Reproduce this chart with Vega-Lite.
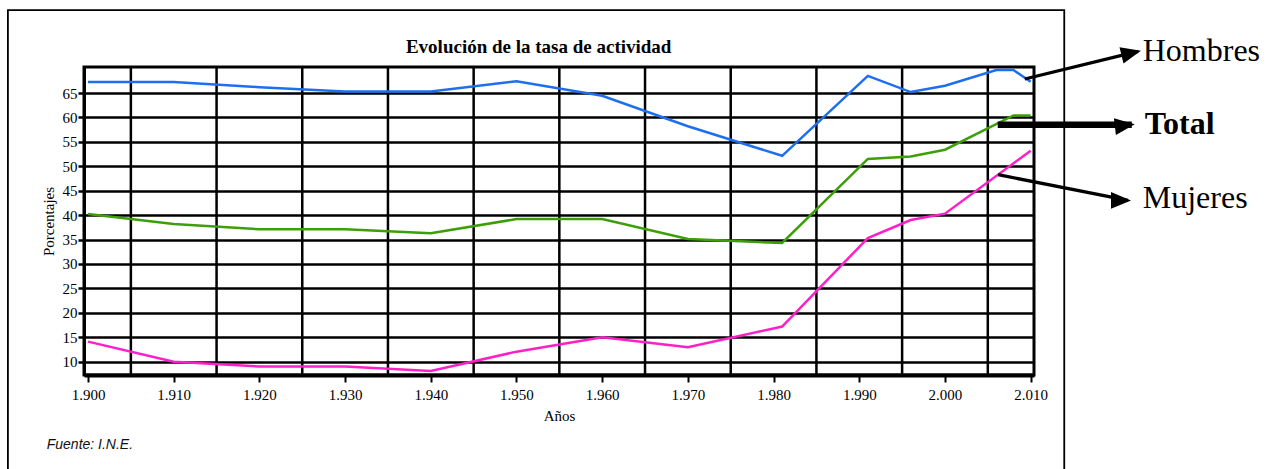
{
  "$schema": "https://vega.github.io/schema/vega-lite/v6.json",
  "width": 950,
  "height": 308,
  "autosize": {"type": "none"},
  "padding": {"left": 84, "top": 67, "right": 244, "bottom": 94},
  "background": "white",
  "config": {
    "view": {"stroke": "black", "strokeWidth": 3}
  },
  "datasets": {
    "series": [
      {"serie": "Hombres", "year": 1900, "value": 67.25},
      {"serie": "Hombres", "year": 1910, "value": 67.25},
      {"serie": "Hombres", "year": 1920, "value": 66.2},
      {"serie": "Hombres", "year": 1930, "value": 65.3},
      {"serie": "Hombres", "year": 1940, "value": 65.3},
      {"serie": "Hombres", "year": 1950, "value": 67.4},
      {"serie": "Hombres", "year": 1960, "value": 64.45},
      {"serie": "Hombres", "year": 1970, "value": 58.2},
      {"serie": "Hombres", "year": 1981, "value": 52.15},
      {"serie": "Hombres", "year": 1991, "value": 68.5},
      {"serie": "Hombres", "year": 1996, "value": 65.2},
      {"serie": "Hombres", "year": 2000, "value": 66.5},
      {"serie": "Hombres", "year": 2006, "value": 69.7},
      {"serie": "Hombres", "year": 2008, "value": 69.7},
      {"serie": "Hombres", "year": 2010, "value": 67.3},
      {"serie": "Total", "year": 1900, "value": 40.25},
      {"serie": "Total", "year": 1910, "value": 38.2},
      {"serie": "Total", "year": 1920, "value": 37.1},
      {"serie": "Total", "year": 1930, "value": 37.1},
      {"serie": "Total", "year": 1940, "value": 36.3},
      {"serie": "Total", "year": 1950, "value": 39.2},
      {"serie": "Total", "year": 1960, "value": 39.2},
      {"serie": "Total", "year": 1970, "value": 35.1},
      {"serie": "Total", "year": 1981, "value": 34.3},
      {"serie": "Total", "year": 1991, "value": 51.5},
      {"serie": "Total", "year": 1996, "value": 52.0},
      {"serie": "Total", "year": 2000, "value": 53.4},
      {"serie": "Total", "year": 2008, "value": 60.4},
      {"serie": "Total", "year": 2010, "value": 60.4},
      {"serie": "Mujeres", "year": 1900, "value": 14.1},
      {"serie": "Mujeres", "year": 1910, "value": 10.0},
      {"serie": "Mujeres", "year": 1920, "value": 9.0},
      {"serie": "Mujeres", "year": 1930, "value": 9.0},
      {"serie": "Mujeres", "year": 1940, "value": 8.1},
      {"serie": "Mujeres", "year": 1950, "value": 12.05},
      {"serie": "Mujeres", "year": 1960, "value": 15.0},
      {"serie": "Mujeres", "year": 1970, "value": 12.95},
      {"serie": "Mujeres", "year": 1981, "value": 17.2},
      {"serie": "Mujeres", "year": 1991, "value": 35.3},
      {"serie": "Mujeres", "year": 1996, "value": 39.0},
      {"serie": "Mujeres", "year": 2000, "value": 40.3},
      {"serie": "Mujeres", "year": 2010, "value": 53.2}
    ],
    "grid": [
      {"year": 1905}, {"year": 1915}, {"year": 1925}, {"year": 1935}, {"year": 1945},
      {"year": 1955}, {"year": 1965}, {"year": 1975}, {"year": 1985}, {"year": 1995}, {"year": 2005}
    ],
    "notes": [
      {"serie": "Hombres", "x": 2009.31, "y": 67.87, "xTip": 2022.53, "yTip": 73.52, "xLabel": 2023.08, "yLabel": 71.48},
      {"serie": "Total", "x": 2006.16, "y": 58.52, "xTip": 2021.8, "yTip": 58.52, "xLabel": 2023.31, "yLabel": 56.61},
      {"serie": "Mujeres", "x": 2006.2, "y": 48.28, "xTip": 2021.36, "yTip": 43.02, "xLabel": 2023.08, "yLabel": 41.46}
    ],
    "texts": [
      {"kind": "title", "x": 1952.59, "y": 73.2, "text": "Evolución de la tasa de actividad"},
      {"kind": "source", "x": 1895.18, "y": -7.82, "text": "Fuente: I.N.E."}
    ],
    "frame": [
      {"x": 1890.65, "x2": 2013.92, "y": 81.96, "y2": -20}
    ]
  },
  "layer": [
    {
      "data": {"name": "grid"},
      "mark": {"type": "rule", "color": "black", "strokeWidth": 2.5},
      "encoding": {
        "x": {
          "field": "year", "type": "quantitative", "title": "Años",
          "scale": {"domain": [1899.53, 2010.39], "nice": false, "zero": false},
          "axis": {
            "values": [1900, 1910, 1920, 1930, 1940, 1950, 1960, 1970, 1980, 1990, 2000, 2010],
            "format": "d", "labelExpr": "slice(datum.label, 0, 1) + '.' + slice(datum.label, 1)",
            "grid": false, "domainColor": "black", "domainWidth": 4,
            "tickColor": "black", "tickWidth": 2, "tickSize": 7,
            "labelFont": "Liberation Serif", "labelFontSize": 15, "labelColor": "black",
            "labelPadding": 5, "labelFlush": false, "labelOverlap": false,
            "titleFont": "Liberation Serif", "titleFontSize": 15, "titleFontWeight": "normal", "titleColor": "black", "titlePadding": 6
          }
        }
      }
    },
    {
      "data": {"name": "series"},
      "mark": {"type": "line", "strokeWidth": 2.5},
      "encoding": {
        "x": {
          "field": "year", "type": "quantitative", "title": "Años",
          "scale": {"domain": [1899.53, 2010.39], "nice": false, "zero": false},
          "axis": {
            "values": [1900, 1910, 1920, 1930, 1940, 1950, 1960, 1970, 1980, 1990, 2000, 2010],
            "format": "d", "labelExpr": "slice(datum.label, 0, 1) + '.' + slice(datum.label, 1)",
            "grid": false, "domainColor": "black", "domainWidth": 4,
            "tickColor": "black", "tickWidth": 2, "tickSize": 7,
            "labelFont": "Liberation Serif", "labelFontSize": 15, "labelColor": "black",
            "labelPadding": 5, "labelFlush": false, "labelOverlap": false,
            "titleFont": "Liberation Serif", "titleFontSize": 15, "titleFontWeight": "normal", "titleColor": "black", "titlePadding": 6
          }
        },
        "y": {
          "field": "value", "type": "quantitative", "title": "Porcentajes",
          "scale": {"domain": [7.27, 70.33], "nice": false, "zero": false},
          "axis": {
            "values": [10, 15, 20, 25, 30, 35, 40, 45, 50, 55, 60, 65],
            "grid": true, "gridColor": "black", "gridWidth": 2.5, "gridOpacity": 1,
            "domainColor": "black", "domainWidth": 3,
            "tickColor": "black", "tickWidth": 2.5, "tickSize": 6,
            "labelFont": "Liberation Serif", "labelFontSize": 15, "labelColor": "black",
            "labelPadding": 1, "labelOverlap": false,
            "titleFont": "Liberation Serif", "titleFontSize": 15, "titleFontWeight": "normal", "titleColor": "black", "titlePadding": 6
          }
        },
        "color": {
          "field": "serie", "type": "nominal",
          "scale": {"domain": ["Hombres", "Total", "Mujeres"], "range": ["#1e6ef0", "#3c9f0a", "#ff1fc8"]},
          "legend": null
        }
      }
    },
    {
      "data": {"name": "notes"},
      "mark": {"type": "rule", "color": "black"},
      "encoding": {
        "x": {
          "field": "x", "type": "quantitative", "title": "Años",
          "scale": {"domain": [1899.53, 2010.39], "nice": false, "zero": false},
          "axis": {
            "values": [1900, 1910, 1920, 1930, 1940, 1950, 1960, 1970, 1980, 1990, 2000, 2010],
            "format": "d", "labelExpr": "slice(datum.label, 0, 1) + '.' + slice(datum.label, 1)",
            "grid": false, "domainColor": "black", "domainWidth": 4,
            "tickColor": "black", "tickWidth": 2, "tickSize": 7,
            "labelFont": "Liberation Serif", "labelFontSize": 15, "labelColor": "black",
            "labelPadding": 5, "labelFlush": false, "labelOverlap": false,
            "titleFont": "Liberation Serif", "titleFontSize": 15, "titleFontWeight": "normal", "titleColor": "black", "titlePadding": 6
          }
        },
        "y": {
          "field": "y", "type": "quantitative", "title": "Porcentajes",
          "scale": {"domain": [7.27, 70.33], "nice": false, "zero": false},
          "axis": {
            "values": [10, 15, 20, 25, 30, 35, 40, 45, 50, 55, 60, 65],
            "grid": true, "gridColor": "black", "gridWidth": 2.5, "gridOpacity": 1,
            "domainColor": "black", "domainWidth": 3,
            "tickColor": "black", "tickWidth": 2.5, "tickSize": 6,
            "labelFont": "Liberation Serif", "labelFontSize": 15, "labelColor": "black",
            "labelPadding": 1, "labelOverlap": false,
            "titleFont": "Liberation Serif", "titleFontSize": 15, "titleFontWeight": "normal", "titleColor": "black", "titlePadding": 6
          }
        },
        "x2": {"field": "xTip"},
        "y2": {"field": "yTip"},
        "strokeWidth": {"condition": {"test": "datum.serie === 'Total'", "value": 6.5}, "value": 3.3}
      }
    },
    {
      "data": {"name": "notes"},
      "mark": {"type": "point", "filled": true, "color": "black", "opacity": 1, "shape": "M0.15,0L-0.85,-0.42L-0.85,0.42Z"},
      "encoding": {
        "x": {
          "field": "xTip", "type": "quantitative", "title": "Años",
          "scale": {"domain": [1899.53, 2010.39], "nice": false, "zero": false},
          "axis": {
            "values": [1900, 1910, 1920, 1930, 1940, 1950, 1960, 1970, 1980, 1990, 2000, 2010],
            "format": "d", "labelExpr": "slice(datum.label, 0, 1) + '.' + slice(datum.label, 1)",
            "grid": false, "domainColor": "black", "domainWidth": 4,
            "tickColor": "black", "tickWidth": 2, "tickSize": 7,
            "labelFont": "Liberation Serif", "labelFontSize": 15, "labelColor": "black",
            "labelPadding": 5, "labelFlush": false, "labelOverlap": false,
            "titleFont": "Liberation Serif", "titleFontSize": 15, "titleFontWeight": "normal", "titleColor": "black", "titlePadding": 6
          }
        },
        "y": {
          "field": "yTip", "type": "quantitative", "title": "Porcentajes",
          "scale": {"domain": [7.27, 70.33], "nice": false, "zero": false},
          "axis": {
            "values": [10, 15, 20, 25, 30, 35, 40, 45, 50, 55, 60, 65],
            "grid": true, "gridColor": "black", "gridWidth": 2.5, "gridOpacity": 1,
            "domainColor": "black", "domainWidth": 3,
            "tickColor": "black", "tickWidth": 2.5, "tickSize": 6,
            "labelFont": "Liberation Serif", "labelFontSize": 15, "labelColor": "black",
            "labelPadding": 1, "labelOverlap": false,
            "titleFont": "Liberation Serif", "titleFontSize": 15, "titleFontWeight": "normal", "titleColor": "black", "titlePadding": 6
          }
        },
        "angle": {"field": "serie", "type": "nominal", "scale": {"domain": ["Hombres", "Total", "Mujeres"], "range": [-13.7, 0, 11.5]}, "legend": null},
        "size": {"value": 1600}
      }
    },
    {
      "data": {"name": "notes"},
      "transform": [{"filter": "datum.serie !== 'Total'"}],
      "mark": {"type": "text", "font": "Liberation Serif", "fontSize": 32, "align": "left", "baseline": "alphabetic", "color": "black"},
      "encoding": {
        "x": {
          "field": "xLabel", "type": "quantitative", "title": "Años",
          "scale": {"domain": [1899.53, 2010.39], "nice": false, "zero": false},
          "axis": {
            "values": [1900, 1910, 1920, 1930, 1940, 1950, 1960, 1970, 1980, 1990, 2000, 2010],
            "format": "d", "labelExpr": "slice(datum.label, 0, 1) + '.' + slice(datum.label, 1)",
            "grid": false, "domainColor": "black", "domainWidth": 4,
            "tickColor": "black", "tickWidth": 2, "tickSize": 7,
            "labelFont": "Liberation Serif", "labelFontSize": 15, "labelColor": "black",
            "labelPadding": 5, "labelFlush": false, "labelOverlap": false,
            "titleFont": "Liberation Serif", "titleFontSize": 15, "titleFontWeight": "normal", "titleColor": "black", "titlePadding": 6
          }
        },
        "y": {
          "field": "yLabel", "type": "quantitative", "title": "Porcentajes",
          "scale": {"domain": [7.27, 70.33], "nice": false, "zero": false},
          "axis": {
            "values": [10, 15, 20, 25, 30, 35, 40, 45, 50, 55, 60, 65],
            "grid": true, "gridColor": "black", "gridWidth": 2.5, "gridOpacity": 1,
            "domainColor": "black", "domainWidth": 3,
            "tickColor": "black", "tickWidth": 2.5, "tickSize": 6,
            "labelFont": "Liberation Serif", "labelFontSize": 15, "labelColor": "black",
            "labelPadding": 1, "labelOverlap": false,
            "titleFont": "Liberation Serif", "titleFontSize": 15, "titleFontWeight": "normal", "titleColor": "black", "titlePadding": 6
          }
        },
        "text": {"field": "serie"}
      }
    },
    {
      "data": {"name": "notes"},
      "transform": [{"filter": "datum.serie === 'Total'"}],
      "mark": {"type": "text", "font": "Liberation Serif", "fontSize": 32, "fontWeight": "bold", "align": "left", "baseline": "alphabetic", "color": "black"},
      "encoding": {
        "x": {
          "field": "xLabel", "type": "quantitative", "title": "Años",
          "scale": {"domain": [1899.53, 2010.39], "nice": false, "zero": false},
          "axis": {
            "values": [1900, 1910, 1920, 1930, 1940, 1950, 1960, 1970, 1980, 1990, 2000, 2010],
            "format": "d", "labelExpr": "slice(datum.label, 0, 1) + '.' + slice(datum.label, 1)",
            "grid": false, "domainColor": "black", "domainWidth": 4,
            "tickColor": "black", "tickWidth": 2, "tickSize": 7,
            "labelFont": "Liberation Serif", "labelFontSize": 15, "labelColor": "black",
            "labelPadding": 5, "labelFlush": false, "labelOverlap": false,
            "titleFont": "Liberation Serif", "titleFontSize": 15, "titleFontWeight": "normal", "titleColor": "black", "titlePadding": 6
          }
        },
        "y": {
          "field": "yLabel", "type": "quantitative", "title": "Porcentajes",
          "scale": {"domain": [7.27, 70.33], "nice": false, "zero": false},
          "axis": {
            "values": [10, 15, 20, 25, 30, 35, 40, 45, 50, 55, 60, 65],
            "grid": true, "gridColor": "black", "gridWidth": 2.5, "gridOpacity": 1,
            "domainColor": "black", "domainWidth": 3,
            "tickColor": "black", "tickWidth": 2.5, "tickSize": 6,
            "labelFont": "Liberation Serif", "labelFontSize": 15, "labelColor": "black",
            "labelPadding": 1, "labelOverlap": false,
            "titleFont": "Liberation Serif", "titleFontSize": 15, "titleFontWeight": "normal", "titleColor": "black", "titlePadding": 6
          }
        },
        "text": {"field": "serie"}
      }
    },
    {
      "data": {"name": "texts"},
      "transform": [{"filter": "datum.kind === 'title'"}],
      "mark": {"type": "text", "font": "Liberation Serif", "fontSize": 19, "fontWeight": "bold", "align": "center", "baseline": "alphabetic", "color": "black"},
      "encoding": {
        "x": {
          "field": "x", "type": "quantitative", "title": "Años",
          "scale": {"domain": [1899.53, 2010.39], "nice": false, "zero": false},
          "axis": {
            "values": [1900, 1910, 1920, 1930, 1940, 1950, 1960, 1970, 1980, 1990, 2000, 2010],
            "format": "d", "labelExpr": "slice(datum.label, 0, 1) + '.' + slice(datum.label, 1)",
            "grid": false, "domainColor": "black", "domainWidth": 4,
            "tickColor": "black", "tickWidth": 2, "tickSize": 7,
            "labelFont": "Liberation Serif", "labelFontSize": 15, "labelColor": "black",
            "labelPadding": 5, "labelFlush": false, "labelOverlap": false,
            "titleFont": "Liberation Serif", "titleFontSize": 15, "titleFontWeight": "normal", "titleColor": "black", "titlePadding": 6
          }
        },
        "y": {
          "field": "y", "type": "quantitative", "title": "Porcentajes",
          "scale": {"domain": [7.27, 70.33], "nice": false, "zero": false},
          "axis": {
            "values": [10, 15, 20, 25, 30, 35, 40, 45, 50, 55, 60, 65],
            "grid": true, "gridColor": "black", "gridWidth": 2.5, "gridOpacity": 1,
            "domainColor": "black", "domainWidth": 3,
            "tickColor": "black", "tickWidth": 2.5, "tickSize": 6,
            "labelFont": "Liberation Serif", "labelFontSize": 15, "labelColor": "black",
            "labelPadding": 1, "labelOverlap": false,
            "titleFont": "Liberation Serif", "titleFontSize": 15, "titleFontWeight": "normal", "titleColor": "black", "titlePadding": 6
          }
        },
        "text": {"field": "text"}
      }
    },
    {
      "data": {"name": "texts"},
      "transform": [{"filter": "datum.kind === 'source'"}],
      "mark": {"type": "text", "font": "Liberation Sans", "fontSize": 14, "fontStyle": "italic", "align": "left", "baseline": "alphabetic", "color": "#111111"},
      "encoding": {
        "x": {
          "field": "x", "type": "quantitative", "title": "Años",
          "scale": {"domain": [1899.53, 2010.39], "nice": false, "zero": false},
          "axis": {
            "values": [1900, 1910, 1920, 1930, 1940, 1950, 1960, 1970, 1980, 1990, 2000, 2010],
            "format": "d", "labelExpr": "slice(datum.label, 0, 1) + '.' + slice(datum.label, 1)",
            "grid": false, "domainColor": "black", "domainWidth": 4,
            "tickColor": "black", "tickWidth": 2, "tickSize": 7,
            "labelFont": "Liberation Serif", "labelFontSize": 15, "labelColor": "black",
            "labelPadding": 5, "labelFlush": false, "labelOverlap": false,
            "titleFont": "Liberation Serif", "titleFontSize": 15, "titleFontWeight": "normal", "titleColor": "black", "titlePadding": 6
          }
        },
        "y": {
          "field": "y", "type": "quantitative", "title": "Porcentajes",
          "scale": {"domain": [7.27, 70.33], "nice": false, "zero": false},
          "axis": {
            "values": [10, 15, 20, 25, 30, 35, 40, 45, 50, 55, 60, 65],
            "grid": true, "gridColor": "black", "gridWidth": 2.5, "gridOpacity": 1,
            "domainColor": "black", "domainWidth": 3,
            "tickColor": "black", "tickWidth": 2.5, "tickSize": 6,
            "labelFont": "Liberation Serif", "labelFontSize": 15, "labelColor": "black",
            "labelPadding": 1, "labelOverlap": false,
            "titleFont": "Liberation Serif", "titleFontSize": 15, "titleFontWeight": "normal", "titleColor": "black", "titlePadding": 6
          }
        },
        "text": {"field": "text"}
      }
    },
    {
      "data": {"name": "frame"},
      "mark": {"type": "rect", "fill": "transparent", "stroke": "black", "strokeWidth": 1.8},
      "encoding": {
        "x": {
          "field": "x", "type": "quantitative", "title": "Años",
          "scale": {"domain": [1899.53, 2010.39], "nice": false, "zero": false},
          "axis": {
            "values": [1900, 1910, 1920, 1930, 1940, 1950, 1960, 1970, 1980, 1990, 2000, 2010],
            "format": "d", "labelExpr": "slice(datum.label, 0, 1) + '.' + slice(datum.label, 1)",
            "grid": false, "domainColor": "black", "domainWidth": 4,
            "tickColor": "black", "tickWidth": 2, "tickSize": 7,
            "labelFont": "Liberation Serif", "labelFontSize": 15, "labelColor": "black",
            "labelPadding": 5, "labelFlush": false, "labelOverlap": false,
            "titleFont": "Liberation Serif", "titleFontSize": 15, "titleFontWeight": "normal", "titleColor": "black", "titlePadding": 6
          }
        },
        "x2": {"field": "x2"},
        "y": {
          "field": "y", "type": "quantitative", "title": "Porcentajes",
          "scale": {"domain": [7.27, 70.33], "nice": false, "zero": false},
          "axis": {
            "values": [10, 15, 20, 25, 30, 35, 40, 45, 50, 55, 60, 65],
            "grid": true, "gridColor": "black", "gridWidth": 2.5, "gridOpacity": 1,
            "domainColor": "black", "domainWidth": 3,
            "tickColor": "black", "tickWidth": 2.5, "tickSize": 6,
            "labelFont": "Liberation Serif", "labelFontSize": 15, "labelColor": "black",
            "labelPadding": 1, "labelOverlap": false,
            "titleFont": "Liberation Serif", "titleFontSize": 15, "titleFontWeight": "normal", "titleColor": "black", "titlePadding": 6
          }
        },
        "y2": {"field": "y2"}
      }
    }
  ]
}
